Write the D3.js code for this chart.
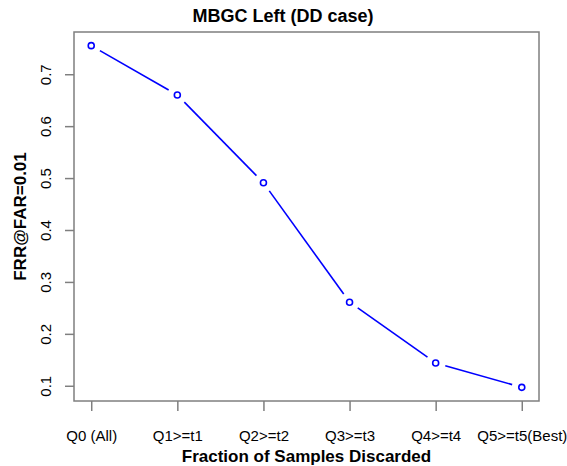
<!DOCTYPE html>
<html>
<head>
<meta charset="utf-8">
<script src="https://cdn.jsdelivr.net/npm/d3@7"></script>
<style>
  body { margin: 0; background: #fff; }
  text { font-family: "Liberation Sans", Arial, sans-serif; }
</style>
</head>
<body>
<div class="canvas"></div>
<script>
const categories = ['Q0 (All)', 'Q1>=t1', 'Q2>=t2', 'Q3>=t3', 'Q4>=t4', 'Q5>=t5(Best)'];
const frr = [0.755, 0.660, 0.491, 0.261, 0.144, 0.097];
const yTicks = [0.1, 0.2, 0.3, 0.4, 0.5, 0.6, 0.7];

const svg = d3.select('.canvas')
    .append('svg')
    .attr('width', 567)
    .attr('height', 466);

const box = { left: 74, right: 539, top: 32, bottom: 401 };

// R style 4% padding on both axes
const x = d3.scaleLinear()
    .domain([-0.2, 5.2])
    .range([box.left, box.right]);

const yMin = d3.min(frr), yMax = d3.max(frr);
const pad = (yMax - yMin) * 0.04;
const y = d3.scaleLinear()
    .domain([yMin - pad, yMax + pad])
    .range([box.bottom, box.top]);

const grey = '#7f7f7f';

// frame
svg.append('rect')
    .attr('x', box.left)
    .attr('y', box.top)
    .attr('width', box.right - box.left)
    .attr('height', box.bottom - box.top)
    .attr('fill', 'none')
    .attr('stroke', grey)
    .attr('stroke-width', 1.5);

// x axis
const xAxis = svg.append('g')
    .attr('transform', `translate(0,${box.bottom})`)
    .call(d3.axisBottom(x)
        .tickValues(d3.range(categories.length))
        .tickSize(10)
        .tickFormat(i => categories[i]));
xAxis.select('.domain').remove();
xAxis.selectAll('line').attr('stroke', grey).attr('stroke-width', 1.5);
xAxis.selectAll('text')
    .attr('y', 29)
    .attr('fill', '#000')
    .style('font-size', '15px');

// y axis
const yAxis = svg.append('g')
    .attr('transform', `translate(${box.left},0)`)
    .call(d3.axisLeft(y)
        .tickValues(yTicks)
        .tickSize(9)
        .tickFormat(d3.format('.1f')));
yAxis.select('.domain').remove();
yAxis.selectAll('line').attr('stroke', grey).attr('stroke-width', 1.5);
yAxis.selectAll('text')
    .attr('x', 0)
    .attr('dy', 0)
    .attr('transform', 'translate(-23,0) rotate(-90)')
    .attr('text-anchor', 'middle')
    .attr('fill', '#000')
    .style('font-size', '15px');

// line segments with gaps around the points (type = "b")
const gap = 10;
const segs = d3.pairs(frr.map((v, i) => [x(i), y(v)]));
svg.selectAll('line.seg')
    .data(segs)
    .enter()
    .append('line')
    .attr('class', 'seg')
    .each(function([a, b]) {
        const dx = b[0] - a[0], dy = b[1] - a[1];
        const len = Math.hypot(dx, dy);
        const ux = dx / len, uy = dy / len;
        d3.select(this)
            .attr('x1', a[0] + ux * gap)
            .attr('y1', a[1] + uy * gap)
            .attr('x2', b[0] - ux * gap)
            .attr('y2', b[1] - uy * gap);
    })
    .attr('stroke', '#0000ff')
    .attr('stroke-width', 1.6);

svg.selectAll('circle')
    .data(frr)
    .enter()
    .append('circle')
    .attr('cx', (d, i) => x(i))
    .attr('cy', d => y(d))
    .attr('r', 3)
    .attr('fill', 'none')
    .attr('stroke', '#0000ff')
    .attr('stroke-width', 1.6);

// titles
svg.append('text')
    .attr('x', 283)
    .attr('y', 22)
    .attr('text-anchor', 'middle')
    .style('font-size', '18px')
    .style('font-weight', 'bold')
    .text('MBGC Left (DD case)');

svg.append('text')
    .attr('x', (box.left + box.right) / 2)
    .attr('y', 462)
    .attr('text-anchor', 'middle')
    .style('font-size', '17px')
    .style('font-weight', 'bold')
    .text('Fraction of Samples Discarded');

svg.append('text')
    .attr('transform', `translate(26,${(box.top + box.bottom) / 2}) rotate(-90)`)
    .attr('text-anchor', 'middle')
    .style('font-size', '17px')
    .style('font-weight', 'bold')
    .text('FRR@FAR=0.01');
</script>
</body>
</html>
